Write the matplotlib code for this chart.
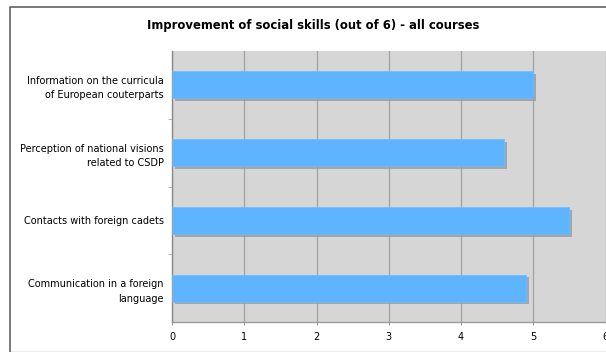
import matplotlib
matplotlib.use("Agg")
import matplotlib.pyplot as plt
import matplotlib.patheffects as pe
from matplotlib.lines import Line2D

categories = [
    "Information on the curricula\nof European couterparts",
    "Perception of national visions\nrelated to CSDP",
    "Contacts with foreign cadets",
    "Communication in a foreign\nlanguage",
]
values = [5.0, 4.6, 5.5, 4.9]
xticks = [0, 1, 2, 3, 4, 5, 6]
title = "Improvement of social skills (out of 6) - all courses"

W, H = 606, 352
fig = plt.figure(figsize=(W / 100, H / 100), dpi=100)
fig.patch.set_facecolor("white")

# outer frame: dark left/top, very light bottom
fx, fy, fb = 9.5 / W, 1 - 7 / H, 1 - 351 / H
fig.add_artist(Line2D([fx, 1.0], [fb, fb], transform=fig.transFigure,
                      color="#ececec", lw=1.0))
fig.add_artist(Line2D([fx, fx, 1.0], [0.0, fy, fy], transform=fig.transFigure,
                      color="#555555", lw=1.1))

ax = fig.add_axes([172 / W, 1 - 322 / H, (605.5 - 172) / W, (322 - 51) / H])
ax.set_facecolor("#d6d6d6")

n = len(categories)
ypos = list(range(n))[::-1]
bars = ax.barh(ypos, values, height=0.4, color="#5eb4ff", edgecolor="#6cbcff",
               lw=0.5, zorder=3)
for b in bars:
    b.set_path_effects([pe.SimplePatchShadow(offset=(2, -2),
                                             shadow_rgbFace="#999999", alpha=0.8),
                        pe.Normal()])

ax.set_xlim(0, 6)
ax.set_ylim(-0.5, n - 0.5)
ax.set_xticks(xticks)
ax.set_xticklabels([str(t) for t in xticks], fontsize=7, family="DejaVu Sans")
ax.set_yticks(ypos)
ax.set_yticklabels(categories, fontsize=7, family="DejaVu Sans", ha="right",
                   multialignment="right", linespacing=1.55)
ax.set_yticks([i - 0.5 for i in range(1, n)], minor=True)
ax.tick_params(axis="y", which="major", length=0, pad=5.8)
ax.tick_params(axis="y", which="minor", length=3, color="#b8b8b8", width=0.8)
ax.tick_params(axis="x", which="major", length=2, color="#9a9a9a", width=0.8, pad=5)

ax.grid(axis="x", color="#a2a2a2", lw=0.9, zorder=1)
ax.set_axisbelow(True)
for s in ["top", "right"]:
    ax.spines[s].set_visible(False)
ax.spines["left"].set_color("#8a8a8a")
ax.spines["bottom"].set_color("#9a9a9a")
ax.spines["left"].set_linewidth(1.0)
ax.spines["bottom"].set_linewidth(1.0)

fig.text(313 / W, 1 - 25 / H, title, ha="center", va="center",
         fontsize=8.4, fontweight="bold", family="DejaVu Sans")

fig.savefig("out.png", dpi=100)
